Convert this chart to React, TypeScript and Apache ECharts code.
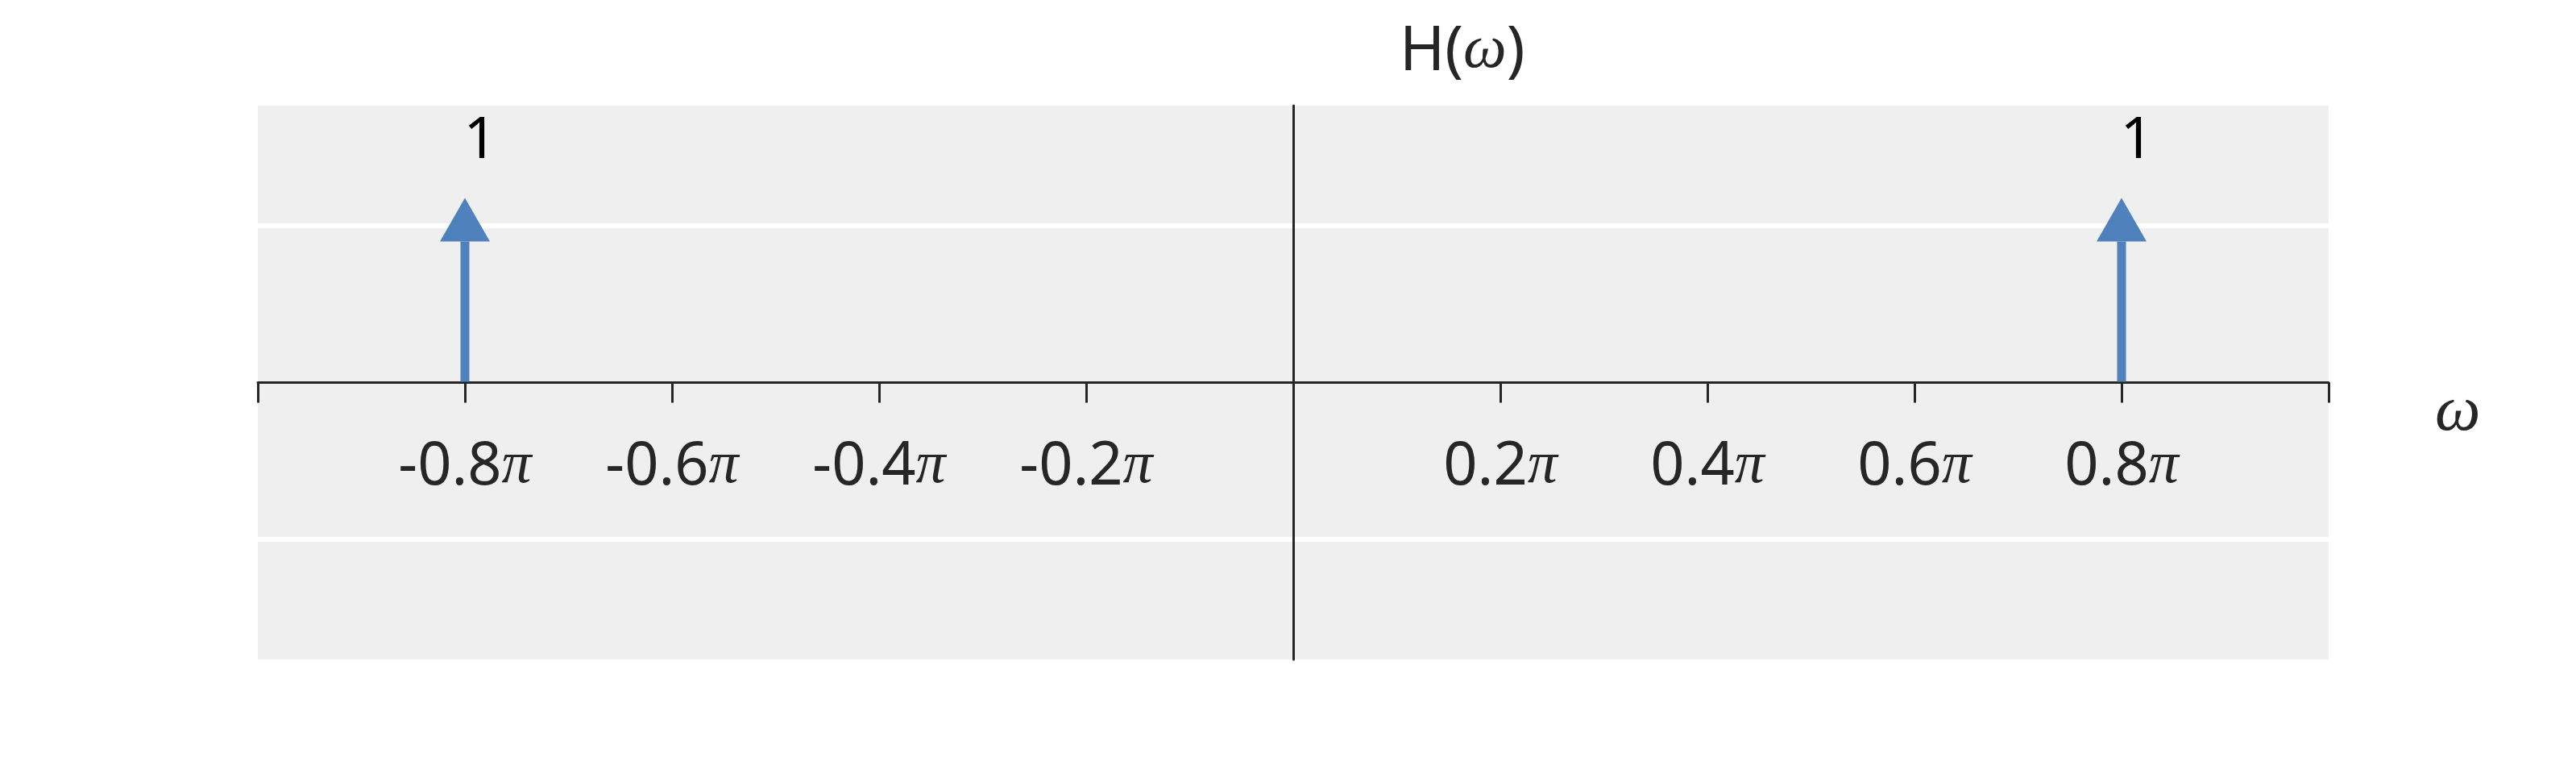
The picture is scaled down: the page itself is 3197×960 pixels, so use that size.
import React, { useEffect, useRef } from "react";
import * as echarts from "echarts";

// Impulse positions (in units of π) and amplitudes
const FREQS = [-0.8, 0.8];
const AMPLITUDES = [1, 1];

// x-axis ticks (units of π)
const X_TICK_VALUES = [-0.8, -0.6, -0.4, -0.2, 0.2, 0.4, 0.6, 0.8];
const X_TICK_LABELS = ["-0.8", "-0.6", "-0.4", "-0.2", "0.2", "0.4", "0.6", "0.8"];

// horizontal reference lines
const GRID_LINES_Y = [0.85, -0.85];

const X_NAME = "ω";

const ARROW_COLOR = "#4F81BD";
const TEXT_COLOR = "#262626";
const SANS = "'Noto Sans', 'Open Sans', sans-serif";
const SERIF = "'Liberation Serif', 'DejaVu Serif', serif";

const GRID_TOP = 131;
const GRID_HEIGHT = 687;
const Y_MIN = -1.5;
const Y_MAX = 1.5;

export default function App() {
  const ref = useRef<HTMLDivElement>(null);

  useEffect(() => {
    if (!ref.current) return;
    const chart = echarts.init(ref.current, null, { renderer: "svg" });
    const data = FREQS.map((f, i) => [f, AMPLITUDES[i]]);
    // move the x axis from the grid bottom up to y = 0
    const zeroOffset = -GRID_HEIGHT * (0 - Y_MIN) / (Y_MAX - Y_MIN);

    const option: any = {
      animation: false,
      backgroundColor: "#ffffff",
      title: {
        text: "{n|H(}{w|ω}{n|)}",
        left: 1737,
        top: 12,
        padding: 0,
        textStyle: {
          fontWeight: "normal",
          rich: {
            n: { fontFamily: SANS, fontWeight: "normal", fontSize: 76, color: TEXT_COLOR, lineHeight: 90 },
            w: { fontFamily: SERIF, fontWeight: "normal", fontStyle: "italic", fontSize: 76, color: TEXT_COLOR, lineHeight: 90 },
          },
        },
      },
      grid: {
        left: 320,
        top: GRID_TOP,
        width: 2570,
        height: GRID_HEIGHT,
        show: true,
        backgroundColor: "#EFEFEF",
        borderWidth: 0,
      },
      xAxis: {
        type: "value",
        min: -1,
        max: 1,
        interval: 0.2,
        position: "bottom",
        offset: zeroOffset,
        z: 5,
        name: X_NAME,
        nameLocation: "end",
        nameGap: 132,
        nameTextStyle: {
          fontFamily: SERIF,
          fontStyle: "italic",
          fontSize: 80,
          color: TEXT_COLOR,
          verticalAlign: "top",
          lineHeight: 62,
        },
        axisLine: { show: true, onZero: false, lineStyle: { color: TEXT_COLOR, width: 3 } },
        axisTick: { show: true, length: 25, inside: false, lineStyle: { color: TEXT_COLOR, width: 3 } },
        splitLine: { show: false },
        axisLabel: {
          margin: 61,
          formatter: (val: number) => {
            const r = Math.round(val * 10) / 10;
            const i = X_TICK_VALUES.indexOf(r);
            return i < 0 ? "" : `{n|${X_TICK_LABELS[i]}}{p|π}`;
          },
          rich: {
            n: { fontFamily: SANS, fontSize: 74, color: TEXT_COLOR, lineHeight: 74 },
            p: { fontFamily: SERIF, fontStyle: "italic", fontSize: 74, color: TEXT_COLOR, lineHeight: 74 },
          },
        },
      },
      yAxis: {
        type: "value",
        min: Y_MIN,
        max: Y_MAX,
        z: 5,
        axisLine: { show: true, onZero: true, lineStyle: { color: TEXT_COLOR, width: 3 } },
        axisTick: { show: false },
        axisLabel: { show: false },
        splitLine: { show: false },
      },
      series: [
        {
          type: "line",
          data: [],
          z: 1,
          silent: true,
          markLine: {
            silent: true,
            symbol: "none",
            label: { show: false },
            lineStyle: { color: "#ffffff", width: 6, type: "solid" },
            data: GRID_LINES_Y.map((y) => ({ yAxis: y })),
          },
        },
        {
          type: "custom",
          z: 10,
          data,
          encode: { x: 0, y: 1 },
          renderItem: (params: any, api: any) => {
            const x = api.value(0);
            const v = api.value(1);
            const base = api.coord([x, 0]);
            const tip = api.coord([x, v]);
            const headLen = 54;
            const headHalf = 31;
            return {
              type: "group",
              children: [
                {
                  type: "line",
                  shape: { x1: base[0], y1: base[1] - 1, x2: tip[0], y2: tip[1] + headLen },
                  style: { stroke: ARROW_COLOR, lineWidth: 11 },
                },
                {
                  type: "polygon",
                  shape: {
                    points: [
                      [tip[0], tip[1]],
                      [tip[0] - headHalf, tip[1] + headLen],
                      [tip[0] + headHalf, tip[1] + headLen],
                    ],
                  },
                  style: { fill: ARROW_COLOR },
                },
                {
                  type: "text",
                  x: tip[0] + 19,
                  y: tip[1] - 78,
                  style: {
                    text: String(v),
                    fontFamily: SANS,
                    fontSize: 72,
                    fill: "#000000",
                    align: "center",
                    verticalAlign: "middle",
                  },
                },
              ],
            };
          },
        },
      ],
    };

    chart.setOption(option);
    return () => chart.dispose();
  }, []);

  return (
    <div
      ref={ref}
      style={{ position: "absolute", left: 0, top: 0, width: 3197, height: 960 }}
    />
  );
}
